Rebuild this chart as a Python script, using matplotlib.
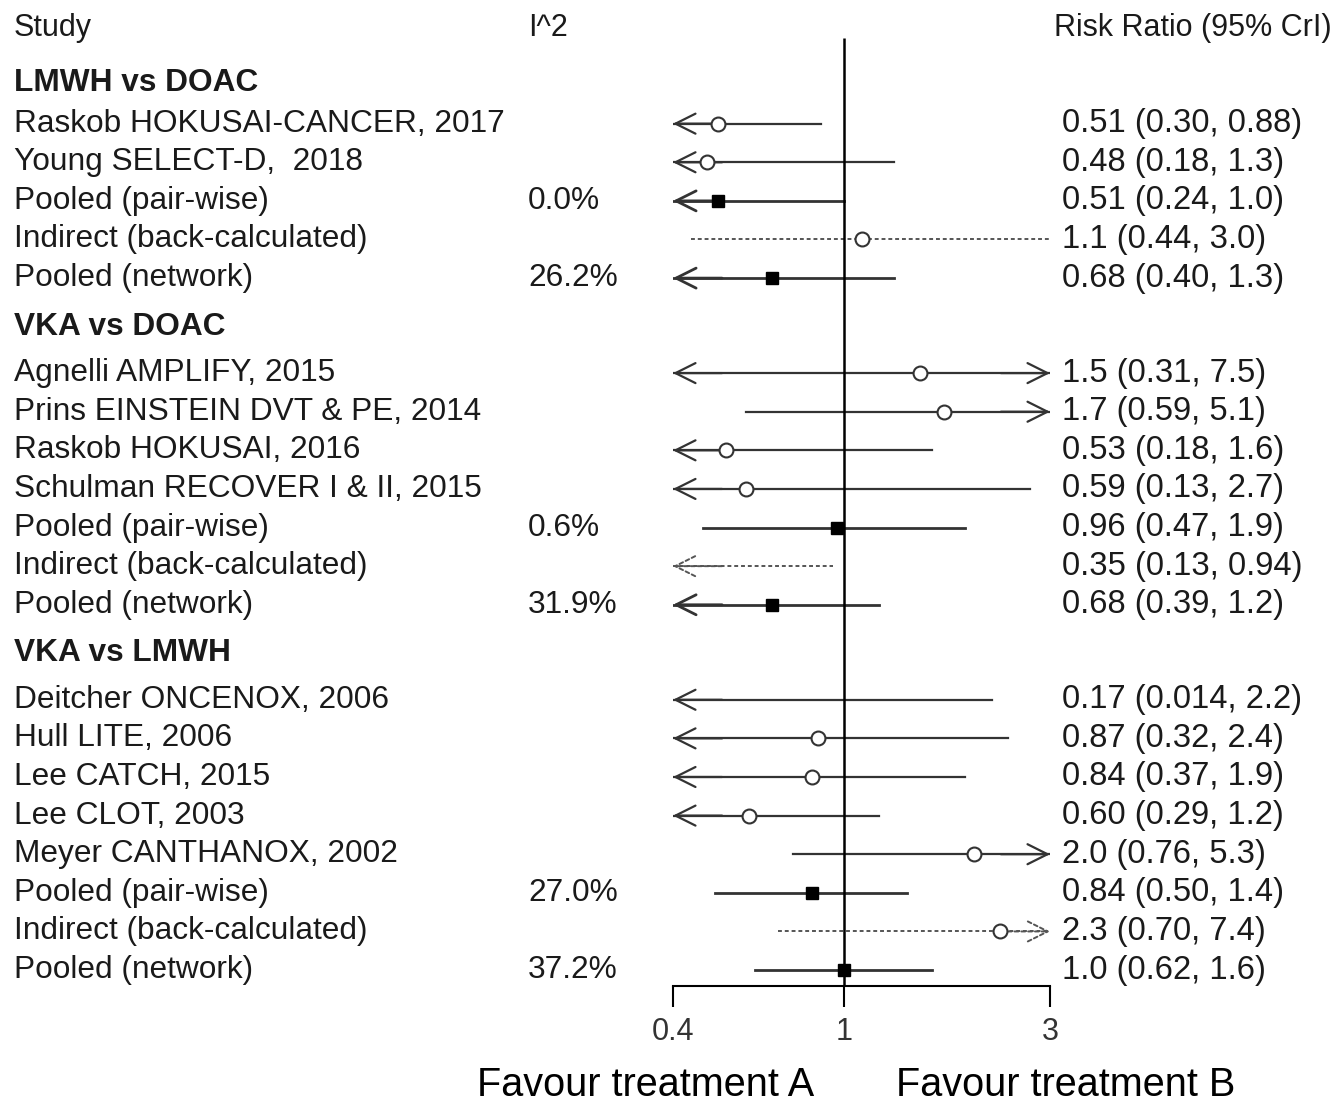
import numpy as np
import matplotlib.pyplot as plt
from matplotlib import transforms

plt.rcParams['font.family'] = ['Liberation Sans', 'DejaVu Sans']

# comparisons and the rows under each one
groups = ["LMWH vs DOAC", "VKA vs DOAC", "VKA vs LMWH"]

studies_1 = ["Raskob HOKUSAI-CANCER, 2017", "Young SELECT-D,  2018", "Pooled (pair-wise)",
             "Indirect (back-calculated)", "Pooled (network)"]
rr_1 = [0.51, 0.48, 0.51, 1.1, 0.68]
lo_1 = [0.30, 0.18, 0.24, 0.44, 0.40]
hi_1 = [0.88, 1.3, 1.0, 3.0, 1.3]
i2_1 = ["", "", "0.0%", "", "26.2%"]

studies_2 = ["Agnelli AMPLIFY, 2015", "Prins EINSTEIN DVT & PE, 2014", "Raskob HOKUSAI, 2016",
             "Schulman RECOVER I & II, 2015", "Pooled (pair-wise)", "Indirect (back-calculated)",
             "Pooled (network)"]
rr_2 = [1.5, 1.7, 0.53, 0.59, 0.96, 0.35, 0.68]
lo_2 = [0.31, 0.59, 0.18, 0.13, 0.47, 0.13, 0.39]
hi_2 = [7.5, 5.1, 1.6, 2.7, 1.9, 0.94, 1.2]
i2_2 = ["", "", "", "", "0.6%", "", "31.9%"]

studies_3 = ["Deitcher ONCENOX, 2006", "Hull LITE, 2006", "Lee CATCH, 2015", "Lee CLOT, 2003",
             "Meyer CANTHANOX, 2002", "Pooled (pair-wise)", "Indirect (back-calculated)",
             "Pooled (network)"]
rr_3 = [0.17, 0.87, 0.84, 0.60, 2.0, 0.84, 2.3, 1.0]
lo_3 = [0.014, 0.32, 0.37, 0.29, 0.76, 0.50, 0.70, 0.62]
hi_3 = [2.2, 2.4, 1.9, 1.2, 5.3, 1.4, 7.4, 1.6]
i2_3 = ["", "", "", "", "", "27.0%", "", "37.2%"]

ticks = [0.4, 1, 3]

blocks = [(studies_1, rr_1, lo_1, hi_1, i2_1),
          (studies_2, rr_2, lo_2, hi_2, i2_2),
          (studies_3, rr_3, lo_3, hi_3, i2_3)]

W, H = 1334, 1114
fig = plt.figure(figsize=(W / 100, H / 100), dpi=100)
ax = fig.add_axes([673 / W, (H - 986) / H, (1050 - 673) / W, 986 / H])
xmin, xmax = ticks[0], ticks[-1]
ax.set_xscale('log')
ax.set_xlim(xmin, xmax)

# row layout in row units, header row at 0
row_h = 38.75
y = 0.0
layout = []
for gi, g in enumerate(groups):
    y += 1.42 if gi == 0 else 1.26
    gy = y
    y += 1.06 if gi == 0 else 1.2
    rows = []
    for k in range(len(blocks[gi][0])):
        rows.append(y)
        y += 1
    y -= 1
    layout.append((gy, rows))
top = -28 / row_h
bottom = y + 16 / row_h
ax.set_ylim(bottom, top)

tr = transforms.blended_transform_factory(fig.transFigure, ax.transData)
txt = '#1a1a1a'
fs = 22.8
fs_val = 23.6

ax.text(14 / W, 0, "Study", transform=tr, fontsize=22, color=txt, va='center', ha='left')
ax.text(528 / W, 0, "I^2", transform=tr, fontsize=22, color=txt, va='center', ha='left')
ax.text(1332 / W, 0, "Risk Ratio (95% CrI)", transform=tr, fontsize=22, color=txt,
        va='center', ha='right')

ax.vlines(1, 0.26, bottom, color='black', lw=1.8, zorder=3)

arrow_kw = dict(arrowstyle='->,head_length=0.4,head_width=0.2', mutation_scale=36,
                shrinkA=0, shrinkB=0)

for gi, (gy, rows) in enumerate(layout):
    ax.text(14 / W, gy, groups[gi], transform=tr, fontsize=fs, fontweight='bold', color=txt,
            va='center', ha='left')
    names, rr, lo, hi, i2 = blocks[gi]
    for k, yy in enumerate(rows):
        name = names[k]
        pooled = name.startswith("Pooled")
        indirect = name.startswith("Indirect")
        ls = (0, (2, 1.5)) if indirect else '-'
        col = '#555555' if indirect else '#333333'
        lw = 1.4 if indirect else (2.0 if pooled else 1.6)

        a = max(lo[k], xmin)
        b = min(hi[k], xmax)
        ax.plot([a, b], [yy, yy], color=col, lw=lw, ls=ls, zorder=2)
        if lo[k] <= xmin:
            ax.annotate('', xy=(xmin, yy), xytext=(min(b, xmin * 1.3), yy),
                        arrowprops=dict(color=col, lw=lw, linestyle=ls, **arrow_kw), zorder=2)
        if hi[k] > xmax:
            ax.annotate('', xy=(xmax, yy), xytext=(max(a, xmax / 1.3), yy),
                        arrowprops=dict(color=col, lw=lw, linestyle=ls, **arrow_kw), zorder=2)
        if xmin <= rr[k] <= xmax:
            if pooled:
                ax.plot(rr[k], yy, marker='s', ms=9, color='black', zorder=4)
            else:
                ax.plot(rr[k], yy, marker='o', ms=10, mfc='white', mec='#333333', mew=1.5,
                        zorder=4)

        ax.text(14 / W, yy, name, transform=tr, fontsize=fs, color=txt, va='center', ha='left')
        if i2[k]:
            ax.text(528 / W, yy, i2[k], transform=tr, fontsize=fs, color=txt, va='center',
                    ha='left')
        label = "{:#.2g} ({:#.2g}, {:#.2g})".format(rr[k], lo[k], hi[k])
        ax.text(1062 / W, yy, label, transform=tr, fontsize=fs_val, color=txt, va='center',
                ha='left')

for s in ['top', 'left', 'right']:
    ax.spines[s].set_visible(False)
ax.spines['bottom'].set_linewidth(1.5)
ax.set_yticks([])
ax.set_xticks(ticks)
ax.set_xticklabels([f"{t:g}" for t in ticks])
ax.xaxis.set_minor_locator(plt.NullLocator())
ax.tick_params(axis='x', direction='out', length=15, width=1.5, labelsize=22, pad=7,
               labelcolor='#333333')
ax.patch.set_visible(False)

fig.text(646 / W, (H - 1085) / H, "Favour treatment A", fontsize=28.5, color='black',
         ha='center', va='center')
fig.text(1066 / W, (H - 1085) / H, "Favour treatment B", fontsize=28.5, color='black',
         ha='center', va='center')

fig.savefig('out.png', dpi=100, facecolor='white')
